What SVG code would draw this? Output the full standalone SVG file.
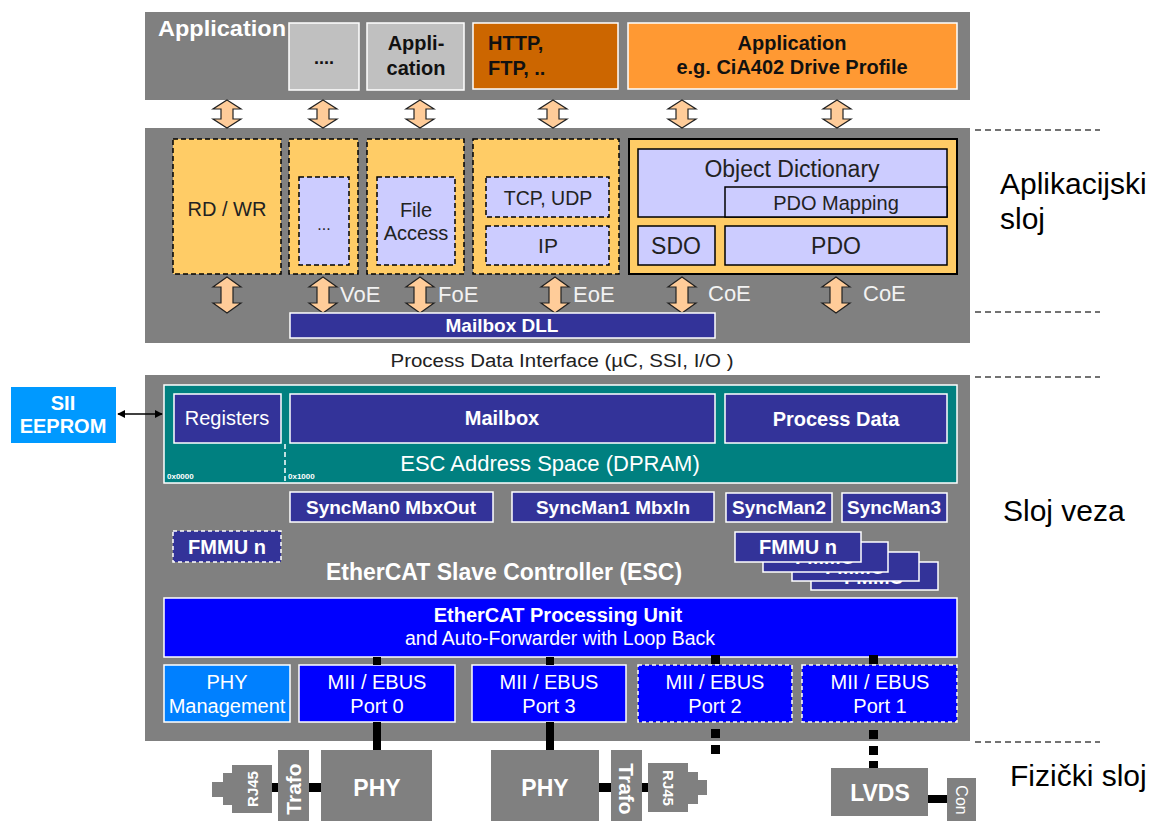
<svg xmlns="http://www.w3.org/2000/svg" width="1161" height="821" viewBox="0 0 1161 821">
<defs>
<style>
text{font-family:"Liberation Sans",Arial,sans-serif}
.band{fill:#808080}
.nav{fill:#333399;stroke:#fff;stroke-width:1.5}
.navD{fill:#333399;stroke:#fff;stroke-width:1.5;stroke-dasharray:4,3}
.yl{fill:#FFCC66;stroke:#000;stroke-width:1.5;stroke-dasharray:5,3}
.ylS{fill:#FFCC66;stroke:#000;stroke-width:2}
.lav{fill:#CCCCFF;stroke:#000;stroke-width:1.5;stroke-dasharray:5,3}
.lavS{fill:#CCCCFF;stroke:#000;stroke-width:1.5}
.blue{fill:#0000FF;stroke:#fff;stroke-width:1.5}
.blueD{fill:#0000FF;stroke:#fff;stroke-width:1.5;stroke-dasharray:4,3}
.arr{fill:#FFCC99;stroke:#222;stroke-width:1.2}
.w{fill:#fff}
.lt{fill:#f2f2f2}
.wb{fill:#fff;font-weight:bold}
.k{fill:#222}
.kb{fill:#111;font-weight:bold}
.c{text-anchor:middle}
.dl{stroke:#444;stroke-width:1.5;stroke-dasharray:6,4;fill:none}
.blk{fill:#000}
.lbl{fill:#000;font-size:30px}
</style>
<path id="aS" d="M0,0 L14,9 L6,9 L6,19 L14,19 L0,28 L-14,19 L-6,19 L-6,9 L-14,9 Z"/>
<path id="aL" d="M0,0 L14,10 L6,10 L6,26 L14,26 L0,36 L-14,26 L-6,26 L-6,10 L-14,10 Z"/>
<marker id="ah" viewBox="0 0 10 10" refX="9" refY="5" markerWidth="8" markerHeight="8" orient="auto-start-reverse" markerUnits="userSpaceOnUse">
<path d="M0,0 L10,5 L0,10 Z" fill="#000"/>
</marker>
<clipPath id="cl2"><rect x="763" y="562" width="125" height="10"/></clipPath>
<clipPath id="cl3"><rect x="792" y="572" width="127" height="9"/></clipPath>
<clipPath id="cl4"><rect x="811" y="581" width="127" height="9"/></clipPath>
</defs>

<!-- bands -->
<g id="bands">
<rect class="band" x="145" y="12" width="825" height="88"/>
<rect class="band" x="145" y="128" width="825" height="215"/>
<rect class="band" x="145" y="375" width="825" height="366"/>
</g>

<!-- top application layer -->
<g id="app-title"><text class="wb" x="158" y="36" font-size="22" textLength="128" lengthAdjust="spacingAndGlyphs">Application</text></g>
<g id="app-dots">
<rect x="289" y="23" width="70" height="67" fill="#C0C0C0" stroke="#fff" stroke-width="1.5"/>
<text class="kb c" x="324" y="64" font-size="18">....</text>
</g>
<g id="app-appl">
<rect x="367" y="23" width="97" height="67" fill="#C0C0C0" stroke="#fff" stroke-width="1.5"/>
<text class="kb c" x="416" y="50" font-size="20">Appli-</text>
<text class="kb c" x="416" y="75" font-size="20">cation</text>
</g>
<g id="app-http">
<rect x="473" y="23" width="145" height="66" fill="#CC6600" stroke="#fff" stroke-width="1.5"/>
<text class="kb" x="488" y="50" font-size="20">HTTP,</text>
<text class="kb" x="488" y="75" font-size="20">FTP, ..</text>
</g>
<g id="app-cia">
<rect x="628" y="23" width="329" height="66" fill="#FF9933" stroke="#fff" stroke-width="1.5"/>
<text class="kb c" x="792" y="50" font-size="20">Application</text>
<text class="kb c" x="792" y="74" font-size="20">e.g. CiA402 Drive Profile</text>
</g>

<!-- arrows -->
<g id="arrows">
<use href="#aS" class="arr" x="227" y="100"/>
<use href="#aS" class="arr" x="323" y="100"/>
<use href="#aS" class="arr" x="420" y="100"/>
<use href="#aS" class="arr" x="553" y="100"/>
<use href="#aS" class="arr" x="682" y="100"/>
<use href="#aS" class="arr" x="837" y="100"/>
<use href="#aL" class="arr" x="227" y="277"/>
<use href="#aL" class="arr" x="323" y="277"/>
<use href="#aL" class="arr" x="420" y="277"/>
<use href="#aL" class="arr" x="555" y="277"/>
<use href="#aL" class="arr" x="682" y="277"/>
<use href="#aL" class="arr" x="836" y="277"/>
</g>

<!-- middle layer -->
<g id="rdwr">
<rect class="yl" x="173" y="139" width="108" height="135"/>
<text class="k c" x="227" y="216" font-size="20">RD / WR</text>
</g>
<g id="voe">
<rect class="yl" x="289" y="139" width="69" height="135"/>
<rect class="lav" x="299" y="177" width="50" height="88"/>
<text class="k c" x="324" y="230" font-size="16">...</text>
<text class="lt" x="340" y="302" font-size="22">VoE</text>
</g>
<g id="foe">
<rect class="yl" x="367" y="139" width="97" height="135"/>
<rect class="lav" x="377" y="177" width="78" height="88"/>
<text class="k c" x="416" y="217" font-size="20">File</text>
<text class="k c" x="416" y="240" font-size="20">Access</text>
<text class="lt" x="438" y="302" font-size="22">FoE</text>
</g>
<g id="eoe">
<rect class="yl" x="473" y="139" width="146" height="135"/>
<rect class="lav" x="486" y="177" width="123" height="40"/>
<text class="k c" x="548" y="205" font-size="19.5">TCP, UDP</text>
<rect class="lav" x="486" y="226" width="123" height="39"/>
<text class="k c" x="548" y="253" font-size="21">IP</text>
<text class="lt" x="573" y="302" font-size="22">EoE</text>
</g>
<g id="coe">
<rect class="ylS" x="629" y="139" width="328" height="135"/>
<rect class="lavS" x="638" y="149" width="309" height="68"/>
<text class="k c" x="792" y="177" font-size="23">Object Dictionary</text>
<rect class="lavS" x="725" y="187" width="222" height="30"/>
<text class="k c" x="836" y="210" font-size="20">PDO Mapping</text>
<rect class="lavS" x="638" y="226" width="77" height="39"/>
<text class="k c" x="676" y="254" font-size="23">SDO</text>
<rect class="lavS" x="725" y="226" width="222" height="39"/>
<text class="k c" x="836" y="254" font-size="23">PDO</text>
<text class="lt" x="708" y="301" font-size="22">CoE</text>
<text class="lt" x="863" y="301" font-size="22">CoE</text>
</g>
<g id="mailbox-dll">
<rect class="nav" x="290" y="313" width="425" height="25"/>
<text class="wb c" x="502" y="332" font-size="19">Mailbox DLL</text>
</g>

<g id="pdi"><text class="k c" x="562" y="367" font-size="18" textLength="343" lengthAdjust="spacingAndGlyphs">Process Data Interface (µC, SSI, I/O )</text></g>

<!-- SII EEPROM -->
<g id="sii">
<rect x="11" y="387" width="105" height="56" fill="#0099FF"/>
<text class="wb c" x="63" y="410" font-size="20">SII</text>
<text class="wb c" x="63" y="433" font-size="20">EEPROM</text>
</g>

<!-- address space -->
<g id="dpram">
<rect x="164" y="385" width="793" height="98" fill="#008080" stroke="#fff" stroke-width="1.5"/>
<line x1="285" y1="444" x2="285" y2="483" stroke="#fff" stroke-width="1.5" stroke-dasharray="5,3"/>
<text class="wb" x="167" y="479" font-size="8">0x0000</text>
<text class="wb" x="288" y="479" font-size="8">0x1000</text>
<text class="w c" x="550" y="471" font-size="22">ESC Address Space (DPRAM)</text>
</g>
<g id="registers">
<rect class="nav" x="174" y="394" width="107" height="49"/>
<text class="w c" x="227" y="425" font-size="20">Registers</text>
</g>
<g id="mailbox">
<rect class="nav" x="290" y="394" width="425" height="49"/>
<text class="wb c" x="502" y="425" font-size="20">Mailbox</text>
</g>
<g id="processdata">
<rect class="nav" x="725" y="394" width="222" height="49"/>
<text class="wb c" x="836" y="426" font-size="20">Process Data</text>
</g>

<!-- sync managers -->
<g id="sm0"><rect class="nav" x="290" y="492" width="203" height="30"/><text class="wb c" x="391" y="514" font-size="19">SyncMan0 MbxOut</text></g>
<g id="sm1"><rect class="nav" x="512" y="492" width="202" height="30"/><text class="wb c" x="613" y="514" font-size="19">SyncMan1 MbxIn</text></g>
<g id="sm2"><rect class="nav" x="726" y="493" width="106" height="29"/><text class="wb c" x="779" y="514" font-size="19">SyncMan2</text></g>
<g id="sm3"><rect class="nav" x="842" y="493" width="105" height="29"/><text class="wb c" x="894" y="514" font-size="19">SyncMan3</text></g>

<g id="fmmu-left"><rect class="navD" x="173" y="531" width="108" height="31"/><text class="wb c" x="227" y="554" font-size="20">FMMU n</text></g>
<g id="fmmu-stack">
<rect class="nav" x="811" y="562" width="127" height="28"/><text class="wb c" x="874" y="584" font-size="20" clip-path="url(#cl4)">FMMU</text>
<rect class="nav" x="792" y="552" width="127" height="29"/><text class="wb c" x="855" y="574" font-size="20" clip-path="url(#cl3)">FMMU</text>
<rect class="nav" x="763" y="542" width="125" height="30"/><text class="wb c" x="825" y="564" font-size="20" clip-path="url(#cl2)">FMMU</text>
<rect class="nav" x="735" y="532" width="126" height="30"/><text class="wb c" x="798" y="554" font-size="20">FMMU n</text>
</g>

<g id="esc-label"><text class="wb c" x="504" y="580" font-size="23">EtherCAT Slave Controller (ESC)</text></g>

<g id="pu">
<rect class="blue" x="164" y="598" width="793" height="59"/>
<text class="wb c" x="558" y="622" font-size="20">EtherCAT Processing Unit</text>
<text class="w c" x="560" y="645" font-size="19.5">and Auto-Forwarder with Loop Back</text>
</g>

<g id="phy-mgmt">
<rect x="164" y="665" width="126" height="57" fill="#0080FF" stroke="#fff" stroke-width="1.5"/>
<text class="w c" x="227" y="689" font-size="20">PHY</text>
<text class="w c" x="227" y="713" font-size="20">Management</text>
</g>
<g id="port0"><rect class="blue" x="299" y="665" width="156" height="57"/><text class="w c" x="377" y="689" font-size="20">MII / EBUS</text><text class="w c" x="377" y="713" font-size="20">Port 0</text></g>
<g id="port3"><rect class="blue" x="472" y="665" width="154" height="57"/><text class="w c" x="549" y="689" font-size="20">MII / EBUS</text><text class="w c" x="549" y="713" font-size="20">Port 3</text></g>
<g id="port2"><rect class="blueD" x="638" y="665" width="154" height="57"/><text class="w c" x="715" y="689" font-size="20">MII / EBUS</text><text class="w c" x="715" y="713" font-size="20">Port 2</text></g>
<g id="port1"><rect class="blueD" x="802" y="665" width="155" height="57"/><text class="w c" x="880" y="689" font-size="20">MII / EBUS</text><text class="w c" x="880" y="713" font-size="20">Port 1</text></g>

<!-- connectors -->
<g id="connectors">
<line x1="118" y1="414" x2="162" y2="414" stroke="#000" stroke-width="1.5" marker-start="url(#ah)" marker-end="url(#ah)"/>
<rect class="blk" x="373" y="657" width="8" height="8"/>
<rect class="blk" x="373" y="722" width="8" height="28"/>
<rect class="blk" x="546" y="657" width="8" height="8"/>
<rect class="blk" x="546" y="722" width="8" height="28"/>
<rect class="blk" x="711" y="655" width="9" height="9"/>
<rect class="blk" x="711" y="729" width="9" height="9"/>
<rect class="blk" x="711" y="745" width="9" height="9"/>
<rect class="blk" x="869" y="655" width="9" height="9"/>
<rect class="blk" x="869" y="730" width="9" height="9"/>
<rect class="blk" x="869" y="746" width="9" height="9"/>
<rect class="blk" x="869" y="761" width="9" height="7"/>
<rect class="blk" x="271" y="783" width="8" height="9"/>
<rect class="blk" x="309" y="783" width="13" height="9"/>
<rect class="blk" x="599" y="783" width="13" height="9"/>
<rect class="blk" x="642" y="783" width="7" height="9"/>
<rect class="blk" x="928" y="795" width="19" height="8"/>
</g>

<!-- physical layer -->
<g id="rj45-left">
<polygon class="band" points="232,765 272,765 272,813 232,813 232,805 223,805 223,797 212,797 212,782 223,782 223,773 232,773"/>
<text class="wb c" font-size="15" transform="translate(257.5,789) rotate(-90)">RJ45</text>
</g>
<g id="trafo-left">
<rect class="band" x="278" y="750" width="31" height="71"/>
<text class="wb c" font-size="21" transform="translate(301,789) rotate(-90)">Trafo</text>
</g>
<g id="phy-left">
<rect class="band" x="321" y="750" width="111" height="71"/>
<text class="wb c" x="377" y="796" font-size="23">PHY</text>
</g>
<g id="phy-right">
<rect class="band" x="491" y="750" width="108" height="71"/>
<text class="wb c" x="545" y="796" font-size="23">PHY</text>
</g>
<g id="trafo-right">
<rect class="band" x="611" y="750" width="31" height="71"/>
<text class="wb c" font-size="21" transform="translate(619,789) rotate(90)">Trafo</text>
</g>
<g id="rj45-right">
<polygon class="band" points="648,763 688,763 688,772 698,772 698,780 707,780 707,795 698,795 698,804 688,804 688,812 648,812"/>
<text class="wb c" font-size="15" transform="translate(663,788) rotate(90)">RJ45</text>
</g>
<g id="lvds">
<rect class="band" x="831" y="768" width="97" height="48"/>
<text class="wb c" x="880" y="801" font-size="23">LVDS</text>
</g>
<g id="con">
<rect class="band" x="947" y="778" width="29" height="43"/>
<text class="w c" font-size="16" transform="translate(956,800) rotate(90)">Con</text>
</g>

<!-- layer labels -->
<g id="layers">
<line class="dl" x1="975" y1="130" x2="1100" y2="130"/>
<line class="dl" x1="975" y1="312" x2="1100" y2="312"/>
<line class="dl" x1="975" y1="377" x2="1100" y2="377"/>
<line class="dl" x1="975" y1="742" x2="1100" y2="742"/>
<text class="lbl" x="1000" y="194">Aplikacijski</text>
<text class="lbl" x="1000" y="229">sloj</text>
<text class="lbl" x="1003" y="521">Sloj veza</text>
<text class="lbl" x="1010" y="786">Fizički sloj</text>
</g>
</svg>
